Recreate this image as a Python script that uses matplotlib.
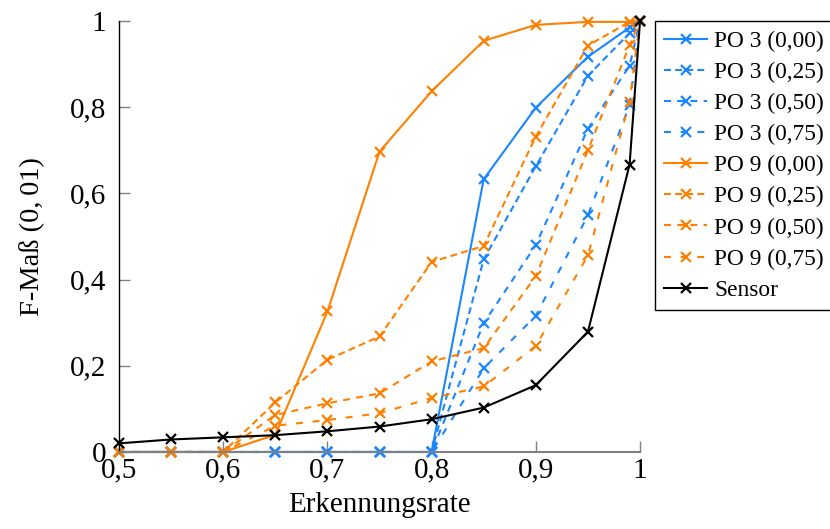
"""
F-measure vs. recognition rate for PO 3 / PO 9 variants and the sensor baseline.
Writes out.png
"""

import matplotlib.pyplot as plt
from matplotlib.ticker import FixedLocator, FuncFormatter

plt.rcParams["font.family"] = ["Liberation Serif", "DejaVu Serif"]
plt.rcParams["lines.scale_dashes"] = False

# recognition rate (x) shared by all series
rate = [0.5, 0.55, 0.6, 0.65, 0.7, 0.75, 0.8, 0.85, 0.9, 0.95, 0.99, 1.0]

po3_000 = [0, 0, 0, 0, 0, 0, 0, 0.633, 0.799, 0.917, 0.985, 1.0]
po3_025 = [0, 0, 0, 0, 0, 0, 0, 0.447, 0.663, 0.873, 0.972, 1.0]
po3_050 = [0, 0, 0, 0, 0, 0, 0, 0.299, 0.480, 0.750, 0.896, 1.0]
po3_075 = [0, 0, 0, 0, 0, 0, 0, 0.194, 0.316, 0.549, 0.805, 1.0]

po9_000 = [0, 0, 0, 0.040, 0.326, 0.697, 0.837, 0.954, 0.991, 0.998, 0.998, 1.0]
po9_025 = [0, 0, 0, 0.115, 0.214, 0.268, 0.441, 0.478, 0.732, 0.943, 0.998, 1.0]
po9_050 = [0, 0, 0, 0.086, 0.113, 0.136, 0.210, 0.241, 0.408, 0.700, 0.944, 1.0]
po9_075 = [0, 0, 0, 0.061, 0.074, 0.090, 0.125, 0.152, 0.246, 0.456, 0.813, 1.0]

sensor = [0.020, 0.029, 0.034, 0.039, 0.048, 0.059, 0.076, 0.103, 0.155, 0.279, 0.667, 1.0]

x_ticks = [0.5, 0.6, 0.7, 0.8, 0.9, 1.0]
y_ticks = [0, 0.2, 0.4, 0.6, 0.8, 1.0]

BLUE = "#1a86ff"
ORANGE = "#ff8000"
STYLES = {
    "0,00": "-",
    "0,25": (0, (5, 3)),
    "0,50": (0, (5, 4.5)),
    "0,75": (0, (5, 7)),
}

SERIES = [
    ("PO 3 (0,00)", po3_000, BLUE, STYLES["0,00"]),
    ("PO 3 (0,25)", po3_025, BLUE, STYLES["0,25"]),
    ("PO 3 (0,50)", po3_050, BLUE, STYLES["0,50"]),
    ("PO 3 (0,75)", po3_075, BLUE, STYLES["0,75"]),
    ("PO 9 (0,00)", po9_000, ORANGE, STYLES["0,00"]),
    ("PO 9 (0,25)", po9_025, ORANGE, STYLES["0,25"]),
    ("PO 9 (0,50)", po9_050, ORANGE, STYLES["0,50"]),
    ("PO 9 (0,75)", po9_075, ORANGE, STYLES["0,75"]),
    ("Sensor", sensor, "black", "-"),
]


def comma_fmt(v, pos):
    if abs(v) < 1e-9:
        return "0"
    if abs(v - 1) < 1e-9:
        return "1"
    return f"{v:.1f}".replace(".", ",")


fig = plt.figure(figsize=(8.3, 5.29), dpi=100)
ax = fig.add_axes([0.1434, 0.1456, 0.6277, 0.8147])

for label, vals, color, ls in SERIES:
    ax.plot(rate, vals, color=color, linestyle=ls, linewidth=1.5,
            marker="x", markersize=6.5, markeredgewidth=1.6,
            label=label, clip_on=False)

ax.set_xlim(0.5, 1.0)
ax.set_ylim(0, 1.0)
ax.xaxis.set_major_locator(FixedLocator(x_ticks))
ax.yaxis.set_major_locator(FixedLocator(y_ticks))
ax.xaxis.set_major_formatter(FuncFormatter(comma_fmt))
ax.yaxis.set_major_formatter(FuncFormatter(comma_fmt))
ax.tick_params(direction="in", length=8, width=1, color="#808080",
               labelsize=21)
ax.tick_params(axis="x", pad=4)
ax.tick_params(axis="y", pad=9)

ax.spines["top"].set_visible(False)
ax.spines["right"].set_visible(False)
ax.spines["left"].set_color("black")
ax.spines["left"].set_linewidth(1)
ax.spines["bottom"].set_color("#808080")
ax.spines["bottom"].set_linewidth(1.5)

ax.set_xlabel("Erkennungsrate", fontsize=21, labelpad=6)
ax.set_ylabel("F-Maß (0,\u200901)", fontsize=20.5, labelpad=18)

leg = ax.legend(loc="upper left", bbox_to_anchor=(0.789, 0.960),
                bbox_transform=fig.transFigure, borderaxespad=0,
                fontsize=16.8, handlelength=1.85, handletextpad=0.3,
                labelspacing=0.42, borderpad=0.4, frameon=True,
                fancybox=False, edgecolor="black", framealpha=1)
leg.get_frame().set_linewidth(1)

fig.savefig("out.png", dpi=100)
